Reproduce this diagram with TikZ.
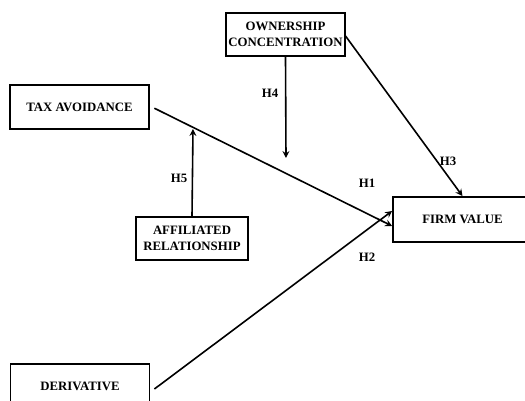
\documentclass[tikz,border=0pt]{standalone}
\usepackage{fontspec}
\setmainfont{Liberation Serif}
\usetikzlibrary{arrows.meta}
\begin{document}
\begin{tikzpicture}[x=1pt,y=-1pt,font=\fontsize{12.8}{16}\selectfont\bfseries,
  varbox/.style={draw,line width=1.8pt,minimum width=139pt,minimum height=44pt,align=center,inner sep=2pt},
  modbox/.style={varbox,minimum width=112pt,minimum height=43pt},
  link/.style={line width=1.6pt,-{Stealth[length=7pt,width=7pt,inset=2.5pt]}},
  hyp/.style={inner sep=1pt}]
  % --- frame of the figure (pixels)
  \useasboundingbox (0,0) rectangle (525,401);
  \clip (0,0) rectangle (525,401);

  %---------------------------------------
  % variables
  \node[varbox] (tax) at (79.5,107) {TAX AVOIDANCE};
  \node[varbox] (deriv) at (80,386) {DERIVATIVE};
  \node[varbox,minimum height=45pt] (firm) at (462.5,219.5) {FIRM VALUE};

  % moderators
  \node[modbox] (own) at (285.5,34.5) {OWNERSHIP\\CONCENTRATION};
  \node[modbox] (aff) at (192,238.5) {AFFILIATED\\RELATIONSHIP};

  %---------------------------------------
  % main paths: H1, H2, H3
  \coordinate (firmA) at ([yshift=-6.5pt]firm.west);
  \coordinate (firmB) at ([yshift=8.5pt]firm.west);
  \draw[link,shorten <=5pt] ([yshift=1pt]tax.east) -- (firmA);
  \draw[link,shorten <=5pt] ([yshift=-6pt]deriv.east) -- (firmB);
  \draw[link] ([yshift=-1.5pt]own.east) -- (firm.north);

  % moderating paths: H4, H5
  \coordinate (ownTip) at (286,158);
  \coordinate (affTip) at (193,129);
  \draw[link] (own.south) -- (ownTip);
  \draw[link] (aff.north) -- (affTip);

  %---------------------------------------
  % hypothesis labels
  \node[hyp] (h1) at (367,183) {H1};
  \node[hyp] (h2) at (367,257) {H2};
  \node[hyp] (h3) at (448,161) {H3};
  \node[hyp] (h4) at (270,93) {H4};
  \node[hyp] (h5) at (179,178) {H5};
\end{tikzpicture}
\end{document}
